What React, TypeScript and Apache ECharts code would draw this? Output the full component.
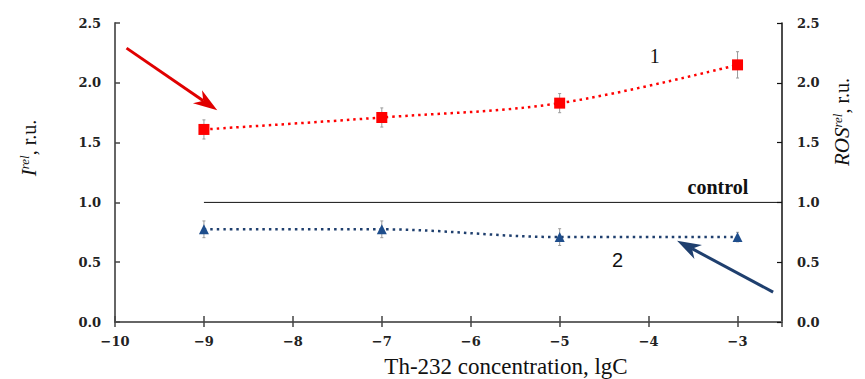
import React, { useEffect, useRef } from "react";
import * as echarts from "echarts";

const concentrations = [-9, -7, -5, -3];
const intensity = [1.61, 1.71, 1.83, 2.15];
const intensityErr = [0.08, 0.08, 0.08, 0.11];
const ros = [0.775, 0.775, 0.71, 0.71];
const rosErr = [0.07, 0.07, 0.07, 0.04];
const controlLevel = 1.0;
const controlRange = [-9, -2.5];
const xRange = [-10, -2.5];
const yRange = [0, 2.5];

const SERIF = "'Liberation Serif', 'DejaVu Serif', serif";
const TICKFONT = "'DejaVu Serif', serif";

function errorBars(values: number[], errs: number[]) {
  return concentrations.map((c, i) => [c, values[i], errs[i]]);
}

const renderErr = (params: any, api: any) => {
  const x = api.value(0);
  const y = api.value(1);
  const e = api.value(2);
  const top = api.coord([x, y + e]);
  const bot = api.coord([x, y - e]);
  const st = { stroke: "#9a9a9a", lineWidth: 1 };
  return {
    type: "group",
    children: [
      { type: "line", shape: { x1: top[0], y1: top[1], x2: bot[0], y2: bot[1] }, style: st },
      { type: "line", shape: { x1: top[0] - 1.5, y1: top[1], x2: top[0] + 1.5, y2: top[1] }, style: st },
      { type: "line", shape: { x1: bot[0] - 1.5, y1: bot[1], x2: bot[0] + 1.5, y2: bot[1] }, style: st },
    ],
  };
};

const fmtMinus = (v: number) => (Number.isInteger(v) ? String(v).replace("-", "\u2212") : "");

export default function App() {
  const ref = useRef<HTMLDivElement>(null);
  useEffect(() => {
    if (!ref.current) return;
    const chart = echarts.init(ref.current, null, { renderer: "svg" });
    const tickLabel = { fontFamily: TICKFONT, fontWeight: "bold" as const, fontSize: 13, color: "#222" };
    const option: any = {
      animation: false,
      backgroundColor: "#fff",
      grid: { left: 115, right: 83, top: 23, bottom: 57 },
      xAxis: [
        {
          type: "value",
          min: xRange[0],
          max: xRange[1],
          interval: 1,
          splitLine: { show: false },
          axisLine: { lineStyle: { color: "#666", width: 2 } },
          axisTick: { inside: true, length: 6, lineStyle: { color: "#444", width: 1.5 } },
          axisLabel: { ...tickLabel, margin: 13, formatter: fmtMinus, showMaxLabel: false },
        },
        {
          type: "value",
          position: "bottom",
          min: xRange[0],
          max: xRange[1],
          interval: 1,
          splitLine: { show: false },
          axisLine: { show: false },
          axisTick: { inside: false, length: 5, lineStyle: { color: "#444", width: 1.5 } },
          axisLabel: { show: false },
        },
      ],
      yAxis: [
        {
          type: "value",
          min: yRange[0],
          max: yRange[1],
          interval: 0.5,
          splitLine: { show: false },
          axisLine: { show: true, lineStyle: { color: "#666", width: 2 } },
          axisTick: { show: true, inside: true, length: 5, lineStyle: { color: "#444", width: 1.5 } },
          axisLabel: { ...tickLabel, margin: 14, formatter: (v: number) => v.toFixed(1) },
        },
        {
          type: "value",
          position: "right",
          min: yRange[0],
          max: yRange[1],
          interval: 0.5,
          splitLine: { show: false },
          axisLine: { show: true, lineStyle: { color: "#111", width: 1.5 } },
          axisTick: { show: true, inside: true, length: 5, lineStyle: { color: "#111", width: 1.2 } },
          axisLabel: { ...tickLabel, margin: 15, formatter: (v: number) => v.toFixed(1) },
        },
      ],
      series: [
        {
          type: "line",
          data: [
            [controlRange[0], controlLevel],
            [controlRange[1], controlLevel],
          ],
          symbol: "none",
          lineStyle: { color: "#111", width: 1 },
          z: 1,
        },
        { type: "custom", renderItem: renderErr, data: errorBars(intensity, intensityErr), z: 2 },
        { type: "custom", renderItem: renderErr, data: errorBars(ros, rosErr), z: 2 },
        {
          type: "line",
          data: concentrations.map((c, i) => [c, intensity[i]]),
          smooth: 0.35,
          symbol: "rect",
          symbolSize: 11,
          itemStyle: { color: "#ff0000" },
          lineStyle: { color: "#ff0000", width: 2.5, type: [2.5, 4] },
          z: 3,
        },
        {
          type: "line",
          data: concentrations.map((c, i) => [c, ros[i]]),
          smooth: 0.35,
          symbol: "triangle",
          symbolSize: 10,
          itemStyle: { color: "#1f4e8c" },
          lineStyle: { color: "#1f3f6e", width: 2.5, type: [2.5, 4] },
          z: 3,
        },
      ],
    };
    chart.setOption(option);

    const px = (x: number, y: number) => chart.convertToPixel({ xAxisIndex: 0, yAxisIndex: 0 }, [x, y]) as number[];

    const arrow = (tail: number[], tip: number[], color: string) => {
      const a = px(tail[0], tail[1]);
      const b = px(tip[0], tip[1]);
      const dx = b[0] - a[0];
      const dy = b[1] - a[1];
      const len = Math.hypot(dx, dy);
      const ux = dx / len;
      const uy = dy / len;
      const nx = -uy;
      const ny = ux;
      const L = 24;
      const W = 8;
      const notch = 7;
      const base = [b[0] - ux * (L - notch), b[1] - uy * (L - notch)];
      return [
        {
          type: "line",
          shape: { x1: a[0], y1: a[1], x2: base[0], y2: base[1] },
          style: { stroke: color, lineWidth: 3 },
        },
        {
          type: "polygon",
          shape: {
            points: [
              [b[0], b[1]],
              [b[0] - ux * L + nx * W, b[1] - uy * L + ny * W],
              base,
              [b[0] - ux * L - nx * W, b[1] - uy * L - ny * W],
            ],
          },
          style: { fill: color },
        },
      ];
    };

    const lbl = (x: number, y: number, text: string, style: any) => {
      const p = px(x, y);
      return { type: "text", x: p[0], y: p[1], style: { text, align: "center", verticalAlign: "middle", fill: "#111", ...style } };
    };

    const nameRich = {
      i: { font: `italic 21px ${SERIF}`, fill: "#111" },
      s: { font: `italic 13px ${SERIF}`, fill: "#111", padding: [0, 0, 10, 0] },
      n: { font: `20px ${SERIF}`, fill: "#111" },
    };

    chart.setOption({
      graphic: [
        ...arrow([-9.87, 2.29], [-8.85, 1.77], "#e00000"),
        ...arrow([-2.6, 0.25], [-3.68, 0.68], "#1f3f6e"),
        lbl(-3.93, 2.225, "1", { font: `20px ${SERIF}` }),
        lbl(-4.35, 0.52, "2", { font: "20px 'Liberation Sans', Arial, sans-serif" }),
        lbl(-3.22, 1.125, "control", { font: `bold 20px ${SERIF}` }),
        {
          type: "text",
          x: 506,
          y: 366,
          style: { text: "Th-232 concentration, lgC", font: `23px ${SERIF}`, fill: "#111", align: "center", verticalAlign: "middle" },
        },
        {
          type: "text",
          x: 29,
          y: 148,
          rotation: Math.PI / 2,
          style: { text: "{i|I}{s|rel}{n|, r.u.}", align: "center", verticalAlign: "middle", rich: nameRich },
        },
        {
          type: "text",
          x: 842,
          y: 122,
          rotation: Math.PI / 2,
          style: { text: "{i|ROS}{s|rel}{n|, r.u.}", align: "center", verticalAlign: "middle", rich: nameRich },
        },
      ],
    });

    return () => chart.dispose();
  }, []);
  return <div ref={ref} style={{ width: 865, height: 379, position: "absolute", left: 0, top: 0 }} />;
}
